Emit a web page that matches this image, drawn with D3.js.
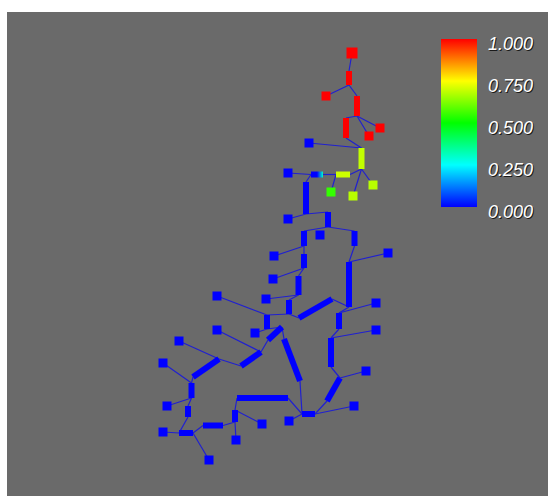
<!DOCTYPE html>
<html><head><meta charset="utf-8">
<script src="https://cdn.jsdelivr.net/npm/d3@7"></script>
<style>html,body{margin:0;padding:0;background:#fff;} svg{display:block;}</style>
</head><body><svg id="chart" width="548" height="496"></svg>
<script>
// ---------------- data ----------------
// network nodes: id, easting, northing (model units), scalar value, kind
const nodeIds = [
  "S1","S2","S3","S4","S5","S6","S7","S8","S9","S10","S11","S12","S13","S14","S15",
  "S16","S17","S18","S19","S20","S21","S22","S23","S24","S25","S26","S27","S28","S29","S30",
  "a1","a2","a3","a4","a5","a6","a7","a8","a9","a10","a11","a12","a13","a14","a15",
  "a16","a17","a18","a19","a20","a21","a22","a23","a24","a25","a26","a27","a28","a29","a30",
  "a31","a32","a33","a34","a35","a36","a37","a38","a39","a40","a41","a42","a43","a44","a45",
  "a46","a47","a48","a49","a50","a51","a52","a53","a54","a55","a56","a57","a58","a59","a60"];
const nodeEast = [
  212,186,240,229,213,233,191,169,148,148,180,134,248,133,126,
  77,236,115,77,236,39,23,226,27,214,23,149,122,96,69,
  209,209,217,217,206,206,221.5,221.5,210,196,183,171,166,166,188,
  188,164,164,214.5,214.5,164,164,158.5,158.5,149,149,209,209,159,192,
  199,199,191,191,200,187,162,175,144,160,127,127,128,142,121,
  101,79,53,51.5,51.5,48,48,39,53,63,83,95,95,97,148];
const nodeNorth = [
  427,384,352,344,284,295,288,337,307,261,245,224,227,201,181,
  184,177,147,150,150,139,117,109,74,74,48,59,56,40,20,
  409,395,384,364,362,342,332,311,305.5,305.5,305.5,305.5,298,266,268,
  253,249,234,249,234,226,212,204,185,180,166,218,173,162,181,
  167,151,142,113,102,79,66,66,141,99,165,151,140,153,128,
  114,121,103,97,82,74,63,47,47,54.5,54.5,70,58,82,82];
const nodeValue = [
  1,1,1,1,0.68,0.68,0.55,0,0,0,0,0,0,0,0,
  0,0,0,0,0,0,0,0,0,0,0,0,0,0,0,
  1,1,1,1,1,1,0.69,0.69,0.7,0.7,0.3,0,0,0,0,
  0,0,0,0,0,0,0,0,0,0,0,0,0,0,0,
  0,0,0,0,0,0,0,0,0,0,0,0,0,0,0,
  0,0,0,0,0,0,0,0,0,0,0,0,0,0,0];
const nodeKind = nodeIds.map(id => id === "S1" ? "tank" : (id[0] === "S" ? "user" : "joint"));

// pipes
const mainFrom = ["a1","a3","a5","a7","a10","a12","a13","a15","a17","a19","a21","a23","a25","a27","a29",
  "a31","a33","a35","a37","a39","a41","a43","a46","a48","a49","a51","a53","a55","a57","a59"];
const mainTo = ["a2","a4","a6","a8","a9","a11","a14","a16","a18","a20","a22","a24","a26","a28","a30",
  "a32","a34","a36","a38","a40","a42","a44","a45","a47","a50","a52","a54","a56","a58","a60"];
const serviceFrom = ["S1","a2","a2","a4","a4","a4","a6","S8","a8","a8","a8","a10","a10","a12","a12",
  "S10","a14","a16","a16","a18","S12","a22","S14","a24","S15","a41","a26","S16","a42","a42",
  "a44","a43","S19","a46","S21","a48","S22","a50","S24","a52","S26","a54","a54","a56","a57",
  "a57","a58","a60","S27","a40","a36","a38","a34","S23","a32","S20","a28","a31","a30","a20","a27"];
const serviceTo = ["a1","S2","a3","S3","S4","a5","a7","a7","a9","S5","S6","a11","S7","S9","a13",
  "a14","a15","a17","a19","a21","a18","a23","a22","a25","a24","a26","a29","a41","S18","a44",
  "a39","a45","a45","a47","a47","a49","a49","a51","a50","a53","a53","a55","S30","a58","a59",
  "S28","S29","a37","a37","a37","a38","S25","a35","a35","a33","a33","a31","S17","a28","a27","S13"];

const legendTicks = [0, 0.25, 0.5, 0.75, 1];
const legendLabels = ["0.000","0.250","0.500","0.750","1.000"];

// ---------------- drawing ----------------
const svg = d3.select("#chart");
const x = d3.scaleLinear().domain([0, 260]).range([140, 400]);
const y = d3.scaleLinear().domain([0, 440]).range([480, 40]);
const color = v => d3.hsl(240 * (1 - v), 1, 0.5).toString();

const nodes = new Map(nodeIds.map((id, i) => [id, {id, e: nodeEast[i], n: nodeNorth[i], v: nodeValue[i], kind: nodeKind[i]}]));

svg.append("rect").attr("x", 7).attr("y", 12).attr("width", 541).attr("height", 484).attr("fill", "#6a6a6a");

const defs = svg.append("defs");

// service lines
svg.append("g").selectAll("line").data(serviceFrom.map((f, i) => [nodes.get(f), nodes.get(serviceTo[i])]))
  .join("line")
  .attr("x1", d => x(d[0].e)).attr("y1", d => y(d[0].n))
  .attr("x2", d => x(d[1].e)).attr("y2", d => y(d[1].n))
  .attr("stroke", "#2020d0").attr("stroke-width", 1.2);

// mains
const mains = mainFrom.map((f, i) => [nodes.get(f), nodes.get(mainTo[i])]);
mains.forEach((d, i) => {
  if (d[0].v !== d[1].v) {
    const g = defs.append("linearGradient").attr("id", "mg" + i).attr("gradientUnits", "userSpaceOnUse")
      .attr("x1", x(d[0].e)).attr("y1", y(d[0].n)).attr("x2", x(d[1].e)).attr("y2", y(d[1].n));
    g.append("stop").attr("offset", 0).attr("stop-color", color(d[0].v));
    g.append("stop").attr("offset", 0.5).attr("stop-color", color(d[0].v));
    g.append("stop").attr("offset", 1).attr("stop-color", color(d[1].v));
  }
});
svg.append("g").selectAll("line").data(mains).join("line")
  .attr("x1", d => x(d[0].e)).attr("y1", d => y(d[0].n))
  .attr("x2", d => x(d[1].e)).attr("y2", d => y(d[1].n))
  .attr("stroke", (d, i) => d[0].v !== d[1].v ? `url(#mg${i})` : color(d[0].v))
  .attr("stroke-width", 6).attr("stroke-linecap", "butt");

// node squares
const shown = [...nodes.values()].filter(d => d.kind !== "joint");
const side = d => d.kind === "tank" ? 11 : 9;
svg.append("g").selectAll("rect").data(shown).join("rect")
  .attr("x", d => x(d.e) - side(d) / 2).attr("y", d => y(d.n) - side(d) / 2)
  .attr("width", side).attr("height", side)
  .attr("fill", d => color(d.v));

// colour bar
const cb = d3.scaleLinear().domain([0, 1]).range([207, 39]);
const lg = defs.append("linearGradient").attr("id", "cbar").attr("x1", 0).attr("y1", 1).attr("x2", 0).attr("y2", 0);
d3.range(0, 1.0001, 0.05).forEach(t => lg.append("stop").attr("offset", t).attr("stop-color", color(t)));
svg.append("rect").attr("x", 441).attr("y", cb(1)).attr("width", 36).attr("height", cb(0) - cb(1)).attr("fill", "url(#cbar)");

const lab = svg.append("g").attr("font-family", "'Liberation Sans', Arial, sans-serif")
  .attr("font-style", "italic").attr("font-size", 18);
legendTicks.forEach((t, i) => {
  lab.append("text").attr("x", 489).attr("y", cb(t) + 11.5).attr("fill", "#1a1a1a").text(legendLabels[i]);
  lab.append("text").attr("x", 488).attr("y", cb(t) + 10.5).attr("fill", "#ffffff").text(legendLabels[i]);
});
</script></body></html>
